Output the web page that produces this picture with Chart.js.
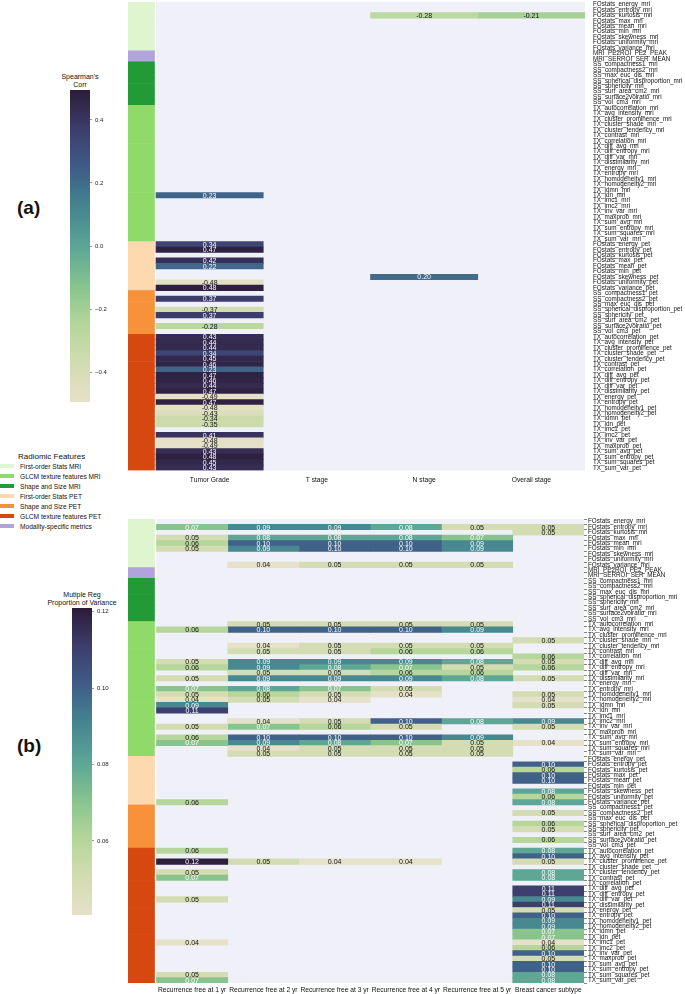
<!DOCTYPE html>
<html>
<head>
<meta charset="utf-8">
<script src="https://cdn.jsdelivr.net/npm/chart.js@4.4.0/dist/chart.umd.min.js"></script>
<style>
  body { margin: 0; background: #fff; width: 685px; height: 994px; position: relative; overflow: hidden;
         font-family: "Liberation Sans", Arial, sans-serif; color: #111; }
  canvas { position: absolute; }
  .txt { position: absolute; white-space: nowrap; }
  .panel { font-weight: bold; font-size: 19px; }
  .cbtitle { font-size: 7px; line-height: 7.6px; text-align: center; width: 120px; }
  .leg { font-size: 6.6px; line-height: 10px; }
  .leg span { display: inline-block; width: 14px; height: 4.5px; margin-right: 6px; vertical-align: 1px; }
</style>
</head>
<body>
<div class="txt panel" style="left:17px; top:197px;">(a)</div>
<div class="txt panel" style="left:17px; top:735px;">(b)</div>
<div class="txt cbtitle" style="left:20px; top:73px;">Spearman's<br>Corr</div>
<div class="txt cbtitle" style="left:22px; top:591px;">Mutiple Reg<br>Proportion of Variance</div>
<div class="txt" id="legend" style="left:0; top:452px;"></div>

<canvas id="top" width="685" height="500" style="left:0; top:-10px;"></canvas>
<canvas id="bottom" width="685" height="494" style="left:0; top:500px;"></canvas>
<canvas id="cbTop" width="70" height="332" style="left:60px; top:80px;"></canvas>
<canvas id="cbBottom" width="70" height="327" style="left:62px; top:598px;"></canvas>

<script>
const _ = null;

const features = [
  'FOstats_energy_mri', 'FOstats_entropy_mri', 'FOstats_kurtosis_mri', 'FOstats_max_mri', 'FOstats_mean_mri',
  'FOstats_min_mri', 'FOstats_skewness_mri', 'FOstats_uniformity_mri', 'FOstats_variance_mri',
  'MRI_PE2ROI_PE2_PEAK', 'MRI_SERROI_SER_MEAN',
  'SS_compactness1_mri', 'SS_compactness2_mri', 'SS_max_euc_dis_mri', 'SS_spherical_disproportion_mri',
  'SS_sphericity_mri', 'SS_surf_area_cm2_mri', 'SS_surface2volratio_mri', 'SS_vol_cm3_mri',
  'TX_autocorrelation_mri', 'TX_avg_intensity_mri', 'TX_cluster_prominence_mri', 'TX_cluster_shade_mri',
  'TX_cluster_tendency_mri', 'TX_contrast_mri', 'TX_correlation_mri', 'TX_diff_avg_mri', 'TX_diff_entropy_mri',
  'TX_diff_var_mri', 'TX_dissimilarity_mri', 'TX_energy_mri', 'TX_entropy_mri', 'TX_homogeneity1_mri',
  'TX_homogeneity2_mri', 'TX_idmn_mri', 'TX_idn_mri', 'TX_imc1_mri', 'TX_imc2_mri', 'TX_inv_var_mri',
  'TX_maxprob_mri', 'TX_sum_avg_mri', 'TX_sum_entropy_mri', 'TX_sum_squares_mri', 'TX_sum_var_mri',
  'FOstats_energy_pet', 'FOstats_entropy_pet', 'FOstats_kurtosis_pet', 'FOstats_max_pet', 'FOstats_mean_pet',
  'FOstats_min_pet', 'FOstats_skewness_pet', 'FOstats_uniformity_pet', 'FOstats_variance_pet',
  'SS_compactness1_pet', 'SS_compactness2_pet', 'SS_max_euc_dis_pet', 'SS_spherical_disproportion_pet',
  'SS_sphericity_pet', 'SS_surf_area_cm2_pet', 'SS_surface2volratio_pet', 'SS_vol_cm3_pet',
  'TX_autocorrelation_pet', 'TX_avg_intensity_pet', 'TX_cluster_prominence_pet', 'TX_cluster_shade_pet',
  'TX_cluster_tendency_pet', 'TX_contrast_pet', 'TX_correlation_pet', 'TX_diff_avg_pet', 'TX_diff_entropy_pet',
  'TX_diff_var_pet', 'TX_dissimilarity_pet', 'TX_energy_pet', 'TX_entropy_pet', 'TX_homogeneity1_pet',
  'TX_homogeneity2_pet', 'TX_idmn_pet', 'TX_idn_pet', 'TX_imc1_pet', 'TX_imc2_pet', 'TX_inv_var_pet',
  'TX_maxprob_pet', 'TX_sum_avg_pet', 'TX_sum_entropy_pet', 'TX_sum_squares_pet', 'TX_sum_var_pet'
];

const groupNames = ['First-order Stats MRI', 'GLCM texture features MRI', 'Shape and Size MRI',
  'First-order Stats PET', 'Shape and Size PET', 'GLCM texture features PET', 'Modality-specific metrics'];
const groupColors = ['#dff5cf', '#8fda69', '#229a35', '#fed8ae', '#f7913a', '#d6480f', '#b1a4dc'];

// (a) Spearman's correlation
const corrColumns = ['Tumor Grade', 'T stage', 'N stage', 'Overall stage'];
const corrTicks = [-0.4, -0.2, 0.0, 0.2, 0.4];
const tumorGrade = [
  _, _, _, _, _, _, _, _, _,
  _, _,
  _, _, _, _, _, _, _, _,
  _, _, _, _, _, _, _, _, _, _, _, _, _, _, _, _, 0.23, _, _, _, _, _, _, _, _,
  0.34, 0.47, _, 0.42, 0.22, _, _, -0.48, 0.48,
  _, 0.37, _, -0.37, 0.37, _, -0.28, _,
  0.43, 0.44, 0.44, 0.34, 0.45, 0.46, 0.23, 0.47, 0.46, 0.44, 0.47, -0.49, 0.47, -0.48, -0.43, -0.34, -0.35,
  _, 0.41, -0.48, -0.49, 0.43, 0.48, 0.45, 0.43
];
const tStage = features.map(() => _);
const nStage = [
  _, _, -0.28, _, _, _, _, _, _,
  _, _,
  _, _, _, _, _, _, _, _,
  _, _, _, _, _, _, _, _, _, _, _, _, _, _, _, _, _, _, _, _, _, _, _, _, _,
  _, _, _, _, _, _, 0.20, _, _,
  _, _, _, _, _, _, _, _,
  _, _, _, _, _, _, _, _, _, _, _, _, _, _, _, _, _, _, _, _, _, _, _, _, _
];
const overallStage = [
  _, _, -0.21, _, _, _, _, _, _,
  _, _,
  _, _, _, _, _, _, _, _,
  _, _, _, _, _, _, _, _, _, _, _, _, _, _, _, _, _, _, _, _, _, _, _, _, _,
  _, _, _, _, _, _, _, _, _,
  _, _, _, _, _, _, _, _,
  _, _, _, _, _, _, _, _, _, _, _, _, _, _, _, _, _, _, _, _, _, _, _, _, _
];

// (b) multiple regression proportion of variance
const varColumns = ['Recurrence free at 1 yr', 'Recurrence free at 2 yr', 'Recurrence free at 3 yr',
  'Recurrence free at 4 yr', 'Recurrence free at 5 yr', 'Breast cancer subtype'];
const varTicks = [0.06, 0.08, 0.10, 0.12];
const rf1 = [
  _, 0.07, _, 0.05, 0.06, 0.05, _, _, _,
  _, _,
  _, _, _, _, _, _, _, _,
  _, 0.06, _, _, _, _, _, 0.05, 0.06, _, 0.05, _, 0.07, 0.05, 0.04, 0.09, 0.11, _, _, 0.05, _, 0.06, 0.07, _, _,
  _, _, _, _, _, _, _, _, 0.06,
  _, _, _, _, _, _, _, _,
  0.06, _, 0.12, _, 0.05, 0.07, _, _, _, 0.05, _, _, _, _, _, _, _, 0.04, _, _, _, _, _, 0.05, 0.07
];
const rf2 = [
  _, 0.09, _, 0.08, 0.10, 0.09, _, _, 0.04,
  _, _,
  _, _, _, _, _, _, _, _,
  0.05, 0.10, _, _, 0.04, 0.05, _, 0.09, 0.09, 0.05, 0.09, _, 0.08, 0.06, 0.05, _, _, _, 0.04, 0.07, _, 0.10, 0.09, 0.04, 0.05,
  _, _, _, _, _, _, _, _, _,
  _, _, _, _, _, _, _, _,
  _, _, 0.05, _, _, _, _, _, _, _, _, _, _, _, _, _, _, _, _, _, _, _, _, _, _
];
const rf3 = [
  _, 0.09, _, 0.08, 0.10, 0.10, _, _, 0.05,
  _, _,
  _, _, _, _, _, _, _, _,
  0.05, 0.10, _, _, 0.05, 0.05, _, 0.09, 0.08, 0.05, 0.09, _, 0.07, 0.05, 0.04, _, _, _, 0.05, 0.06, _, 0.10, 0.08, 0.05, 0.05,
  _, _, _, _, _, _, _, _, _,
  _, _, _, _, _, _, _, _,
  _, _, 0.04, _, _, _, _, _, _, _, _, _, _, _, _, _, _, _, _, _, _, _, _, _, _
];
const rf4 = [
  _, 0.08, _, 0.08, 0.10, 0.10, _, _, 0.05,
  _, _,
  _, _, _, _, _, _, _, _,
  0.05, 0.10, _, _, 0.05, 0.06, _, 0.09, 0.07, 0.06, 0.09, _, 0.05, 0.04, _, _, _, _, 0.10, 0.05, _, 0.10, 0.07, 0.05, 0.05,
  _, _, _, _, _, _, _, _, _,
  _, _, _, _, _, _, _, _,
  _, _, 0.04, _, _, _, _, _, _, _, _, _, _, _, _, _, _, _, _, _, _, _, _, _, _
];
const rf5 = [
  _, 0.05, _, 0.07, 0.09, 0.09, _, _, 0.05,
  _, _,
  _, _, _, _, _, _, _, _,
  0.05, 0.09, _, _, 0.05, 0.06, _, 0.08, 0.05, 0.06, 0.08, _, _, _, _, _, _, _, 0.08, _, _, 0.09, 0.05, 0.05, 0.05,
  _, _, _, _, _, _, _, _, _,
  _, _, _, _, _, _, _, _,
  _, _, _, _, _, _, _, _, _, _, _, _, _, _, _, _, _, _, _, _, _, _, _, _, _
];
const subtype = [
  _, 0.05, 0.05, _, _, _, _, _, _,
  _, _,
  _, _, _, _, _, _, _, _,
  _, _, _, 0.05, _, _, 0.06, 0.05, 0.06, _, 0.05, _, _, 0.05, 0.04, 0.05, _, _, 0.09, 0.05, _, _, 0.04, _, _,
  _, 0.10, 0.06, 0.10, 0.10, _, 0.08, 0.06, 0.08,
  _, 0.05, _, 0.06, 0.05, _, 0.06, _,
  0.08, 0.10, 0.05, _, 0.08, 0.08, _, 0.11, 0.11, 0.09, 0.11, 0.05, 0.10, 0.09, 0.09, 0.07, 0.07, 0.04, 0.06,
  0.10, 0.05, 0.10, 0.10, 0.08, 0.08
];

// colour ramp, light (low) to dark (high)
const cmapStops = ['#e6e1c9', '#d2dcb0', '#b4d69a', '#85c38e', '#5ba596', '#458590', '#3f5d87', '#3d3d6c', '#2c1c38'];

function hexRgb(h) { return [1, 3, 5].map(i => parseInt(h.substr(i, 2), 16)); }
function cmap(t) {
  t = Math.min(1, Math.max(0, t));
  const n = cmapStops.length - 1;
  const i = Math.min(n - 1, Math.floor(t * n));
  const f = t * n - i;
  const a = hexRgb(cmapStops[i]), b = hexRgb(cmapStops[i + 1]);
  return 'rgb(' + a.map((v, k) => Math.round(v + (b[k] - v) * f)).join(',') + ')';
}

function groupOf(name) {
  if (name.startsWith('MRI_')) return 6;
  const pet = name.endsWith('_pet');
  if (name.startsWith('FOstats')) return pet ? 3 : 0;
  if (name.startsWith('SS_')) return pet ? 4 : 2;
  return pet ? 5 : 1;
}

document.getElementById('legend').innerHTML =
  '<div style="font-size:8px; line-height:10px; margin-left:18px;">Radiomic Features</div>' +
  groupNames.map((g, i) => '<div class="leg"><span style="background:' + groupColors[i] + '"></span>' + g + '</div>').join('');

const font = { family: '"Liberation Sans", Arial, sans-serif' };

const cellLabels = {
  id: 'cellLabels',
  afterDatasetsDraw(chart) {
    const ctx = chart.ctx;
    const o = chart.options.heat;
    ctx.save();
    ctx.font = '7px "Liberation Sans", Arial, sans-serif';
    ctx.textAlign = 'center';
    ctx.textBaseline = 'middle';
    chart.data.datasets.forEach((ds, i) => {
      if (!ds.values) return;
      chart.getDatasetMeta(i).data.forEach((bar, j) => {
        const v = ds.values[j];
        if (v === null) return;
        const t = (v - o.vmin) / (o.vmax - o.vmin);
        ctx.fillStyle = t > 0.33 ? '#ffffff' : '#111111';
        ctx.fillText(v.toFixed(2), (bar.x + bar.base) / 2, bar.y + 0.5);
      });
    });
    ctx.restore();
  }
};

const heatBackground = {
  id: 'heatBackground',
  beforeDatasetsDraw(chart) {
    const { ctx, chartArea, scales } = chart;
    const x0 = scales.x.getPixelForValue(0);
    ctx.save();
    ctx.fillStyle = '#eff0f8';
    ctx.fillRect(x0, chartArea.top, chartArea.right - x0, chartArea.bottom - chartArea.top);
    ctx.restore();
  }
};

function heatmap(id, columns, series, o) {
  const datasets = [{
    data: features.map(() => [o.stripStart, o.stripEnd]),
    backgroundColor: features.map(f => groupColors[groupOf(f)]),
    grouped: false, barPercentage: 1, categoryPercentage: 1
  }];
  series.forEach((vals, c) => {
    datasets.push({
      data: vals.map(v => v === null ? null : [c, c + 1]),
      values: vals,
      backgroundColor: vals.map(v => v === null ? 'rgba(0,0,0,0)' : cmap((v - o.vmin) / (o.vmax - o.vmin))),
      grouped: false, barPercentage: 1, categoryPercentage: 1
    });
  });
  return new Chart(document.getElementById(id), {
    type: 'bar',
    data: { labels: features, datasets: datasets },
    options: {
      responsive: false,
      animation: false,
      indexAxis: 'y',
      heat: o,
      layout: { padding: { left: 128, top: o.padTop, right: 0, bottom: 0 } },
      plugins: { legend: { display: false }, tooltip: { enabled: false } },
      scales: {
        x: {
          type: 'linear',
          min: o.stripStart,
          max: columns.length,
          grid: { display: false, drawTicks: false },
          border: { display: false },
          afterBuildTicks: (scale) => { scale.ticks = columns.map((c, i) => ({ value: i + 0.5 })); },
          afterFit: (scale) => { scale.height = o.xHeight; },
          ticks: {
            autoSkip: false, maxRotation: 0, padding: o.xPad, color: '#111',
            font: Object.assign({ size: 6.7 }, font),
            callback: (v, i) => columns[i]
          }
        },
        y: {
          position: 'right',
          grid: { display: o.yTicks, drawOnChartArea: false, drawTicks: o.yTicks, tickLength: 3, color: '#333', lineWidth: 0.6 },
          border: { display: false },
          afterFit: (scale) => { scale.width = o.yWidth; },
          ticks: {
            autoSkip: false, padding: o.yPad, color: '#111',
            font: Object.assign({ size: 6.3 }, font)
          }
        }
      }
    },
    plugins: [heatBackground, cellLabels]
  });
}

heatmap('top', corrColumns, [tumorGrade, tStage, nStage, overallStage], {
  vmin: -0.495, vmax: 0.495, stripStart: -0.261, stripEnd: -0.014,
  padTop: 10, xHeight: 19.5, xPad: 6, yWidth: 100, yTicks: false, yPad: 8
});

heatmap('bottom', varColumns, [rf1, rf2, rf3, rf4, rf5, subtype], {
  vmin: 0.0406, vmax: 0.121, stripStart: -0.4, stripEnd: -0.028,
  padTop: 19, xHeight: 11, xPad: 3, yWidth: 101, yTicks: true, yPad: 1
});

const gradientFill = {
  id: 'gradientFill',
  beforeDatasetsDraw(chart) {
    const { ctx, chartArea } = chart;
    const g = ctx.createLinearGradient(0, chartArea.bottom, 0, chartArea.top);
    cmapStops.forEach((c, i) => g.addColorStop(i / (cmapStops.length - 1), c));
    ctx.save();
    ctx.fillStyle = g;
    ctx.fillRect(chartArea.left, chartArea.top, chartArea.right - chartArea.left, chartArea.bottom - chartArea.top);
    ctx.restore();
  }
};

function colorbar(id, vmin, vmax, ticks, fmt) {
  return new Chart(document.getElementById(id), {
    type: 'bar',
    data: { labels: [''], datasets: [{ data: [] }] },
    options: {
      responsive: false,
      animation: false,
      layout: { padding: { left: 10, top: 10, bottom: 10, right: 0 } },
      plugins: { legend: { display: false }, tooltip: { enabled: false } },
      scales: {
        x: { display: false },
        y: {
          position: 'right',
          min: vmin, max: vmax,
          grid: { drawOnChartArea: false, tickLength: 2, color: '#555', lineWidth: 0.6 },
          border: { display: false },
          afterBuildTicks: (scale) => { scale.ticks = ticks.map(v => ({ value: v })); },
          afterFit: (scale) => { scale.width = 40; },
          ticks: { padding: 3, color: '#222', font: Object.assign({ size: 6 }, font), callback: fmt }
        }
      }
    },
    plugins: [gradientFill]
  });
}

colorbar('cbTop', -0.495, 0.495, corrTicks, v => (v < -1e-9 ? '\u2212' : '') + Math.abs(v).toFixed(1));
colorbar('cbBottom', 0.0406, 0.121, varTicks, v => v.toFixed(2));
</script>
</body>
</html>
